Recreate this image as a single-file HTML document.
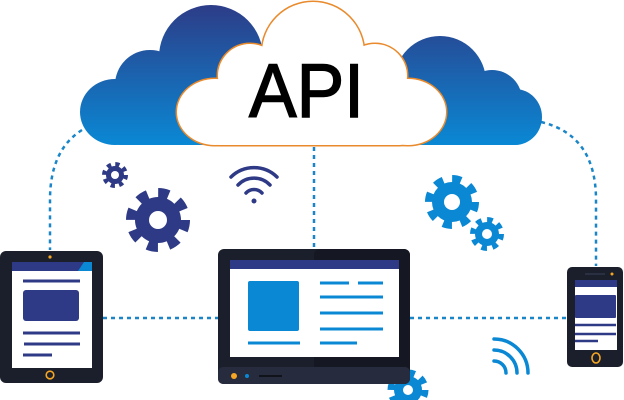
<!DOCTYPE html>
<html><head><meta charset="utf-8"><style>html,body{margin:0;padding:0;background:#fff;}svg{display:block}</style></head>
<body>
<svg width="624" height="400" viewBox="0 0 624 400" xmlns="http://www.w3.org/2000/svg">
<defs>
<linearGradient id="cg2" x1="0" y1="0" x2="0" y2="145" gradientUnits="userSpaceOnUse">
<stop offset="0" stop-color="#2e3a85"/><stop offset="1" stop-color="#0a88d4"/>
</linearGradient>
</defs>

<g fill="none" stroke="#1a86c8" stroke-width="2.5" stroke-dasharray="4 4">
<path d="M82,130 Q50,150 50,200 L50,250"/>
<path d="M541,122 Q596,135 596,200 L596,266"/>
<path d="M314,147 L314,247"/>
<path d="M103,318 L218,318"/>
<path d="M410,318 L567,318"/>
</g>

<g fill="url(#cg2)">
<circle cx="211" cy="57" r="52"/>
<circle cx="150" cy="85" r="35"/>
<ellipse cx="115" cy="112" rx="35" ry="33"/>
<rect x="100" y="90" width="160" height="55" rx="20"/>
<circle cx="440" cy="82" r="46"/>
<circle cx="492" cy="100" r="30"/>
<ellipse cx="515" cy="117" rx="27" ry="28"/>
<rect x="380" y="95" width="155" height="50" rx="20"/>
</g>

<g fill="#fff" stroke="#e98a2c" stroke-width="3">
<circle cx="313" cy="53" r="51"/>
<circle cx="250" cy="76" r="32"/>
<circle cx="375" cy="76" r="32"/>
<ellipse cx="215" cy="112" rx="38" ry="33"/>
<ellipse cx="408" cy="112" rx="38" ry="33"/>
<rect x="200" y="90" width="220" height="55" rx="20"/>
</g>
<g fill="#fff">
<circle cx="313" cy="53" r="51"/>
<circle cx="250" cy="76" r="32"/>
<circle cx="375" cy="76" r="32"/>
<ellipse cx="215" cy="112" rx="38" ry="33"/>
<ellipse cx="408" cy="112" rx="38" ry="33"/>
<rect x="200" y="90" width="220" height="55" rx="20"/>
</g>
<text x="249" y="117" font-family="Liberation Sans, sans-serif" font-size="76" textLength="115" lengthAdjust="spacingAndGlyphs" fill="#000" stroke="#000" stroke-width="1.5">API</text>

<g fill="#2e3a85" stroke="#2e3a85">
<circle cx="115" cy="175" r="9" stroke="none"/>
<circle cx="115" cy="175" r="10.5" fill="none" stroke-width="5" stroke-dasharray="4.12 4.12"/>
<circle cx="158" cy="220" r="23" stroke="none"/>
<circle cx="158" cy="220" r="27" fill="none" stroke-width="10" stroke-dasharray="10.6 10.6"/>
</g>
<circle cx="115" cy="175" r="4" fill="#fff"/>
<circle cx="158" cy="220" r="9" fill="#fff"/>

<g fill="#0a88d4" stroke="#0a88d4">
<circle cx="452" cy="202" r="20" stroke="none"/>
<circle cx="452" cy="202" r="23" fill="none" stroke-width="8" stroke-dasharray="9 9.06"/>
<circle cx="487" cy="234" r="12" stroke="none"/>
<circle cx="487" cy="234" r="14" fill="none" stroke-width="6" stroke-dasharray="5.5 5.5"/>
<circle cx="408" cy="390" r="14" stroke="none"/>
<circle cx="408" cy="390" r="17" fill="none" stroke-width="7" stroke-dasharray="6.7 6.65"/>
</g>
<circle cx="452" cy="202" r="8" fill="#fff"/>
<circle cx="487" cy="234" r="5" fill="#fff"/>
<circle cx="408" cy="390" r="5" fill="#fff"/>

<g fill="none" stroke="#2e3a85" stroke-width="3.5" stroke-linecap="round">
<path d="M231,177 A33,33 0 0 1 277,177"/>
<path d="M238,185 A22,22 0 0 1 270,185"/>
<path d="M246,193 A11,11 0 0 1 262,193"/>
</g>
<circle cx="254" cy="201" r="2.5" fill="#2e3a85"/>

<g fill="none" stroke="#0a88d4" stroke-width="3.5" stroke-linecap="round">
<path d="M494,339 A34,34 0 0 1 528,373"/>
<path d="M494,350 A23,23 0 0 1 517,373"/>
<path d="M494,361 A12,12 0 0 1 506,373"/>
</g>

<rect x="0" y="251" width="103" height="132" rx="6" fill="#1b1f2b"/>
<rect x="12" y="262" width="80" height="106" fill="#fff"/>
<rect x="12" y="262" width="80" height="9" fill="#2e3a85"/>
<path d="M84,262 L92,262 L92,271 L78,271 Z" fill="#0a88d4"/>
<circle cx="50" cy="257" r="1.6" fill="#f5a623"/>
<g stroke="#2e3a85" stroke-width="3">
<line x1="23" y1="281" x2="80" y2="281"/>
<line x1="23" y1="333" x2="80" y2="333"/>
<line x1="24" y1="344" x2="80" y2="344"/>
<line x1="23" y1="355" x2="52" y2="355"/>
</g>
<rect x="23" y="290" width="56" height="31" rx="3" fill="#2e3a85"/>
<circle cx="50" cy="375" r="3.8" fill="none" stroke="#f5a623" stroke-width="1.6"/>

<rect x="218" y="249" width="192" height="135" rx="6" fill="#1b1f2b"/>
<rect x="314" y="249" width="96" height="135" rx="6" fill="#151822"/>
<rect x="218" y="367" width="192" height="17" rx="5" fill="#262c3e"/>
<rect x="230" y="260" width="169" height="97" fill="#fff"/>
<rect x="230" y="260" width="169" height="9" fill="#2e3a85"/>
<rect x="248" y="281" width="51" height="50" rx="2" fill="#0a88d4"/>
<g stroke="#0a88d4" stroke-width="3">
<line x1="320" y1="283" x2="349" y2="283"/>
<line x1="358" y1="283" x2="383" y2="283"/>
<line x1="320" y1="297" x2="383" y2="297"/>
<line x1="320" y1="313" x2="383" y2="313"/>
<line x1="320" y1="329" x2="383" y2="329"/>
<line x1="320" y1="343" x2="357" y2="343"/>
<line x1="248" y1="343" x2="300" y2="343"/>
</g>
<circle cx="234" cy="376" r="3" fill="#f5a623"/>
<circle cx="247" cy="376" r="2" fill="#0a88d4"/>
<line x1="259" y1="376" x2="282" y2="376" stroke="#11131b" stroke-width="2"/>

<rect x="567" y="267" width="56" height="100" rx="5" fill="#1b1f2b"/>
<rect x="575" y="280" width="42" height="70" fill="#fff"/>
<rect x="575" y="280" width="42" height="7" fill="#2e3a85"/>
<rect x="575" y="295" width="41" height="23" rx="1" fill="#2e3a85"/>
<g stroke="#2e3a85" stroke-width="2.5">
<line x1="575" y1="325" x2="616" y2="325"/>
<line x1="575" y1="334" x2="616" y2="334"/>
<line x1="575" y1="341" x2="598" y2="341"/>
</g>
<line x1="585" y1="274" x2="605" y2="274" stroke="#2a3042" stroke-width="2"/>
<circle cx="612" cy="274" r="1.5" fill="#f5a623"/>
<ellipse cx="596" cy="358" rx="4" ry="5" fill="none" stroke="#f5a623" stroke-width="1.6"/>
</svg>
</body></html>
